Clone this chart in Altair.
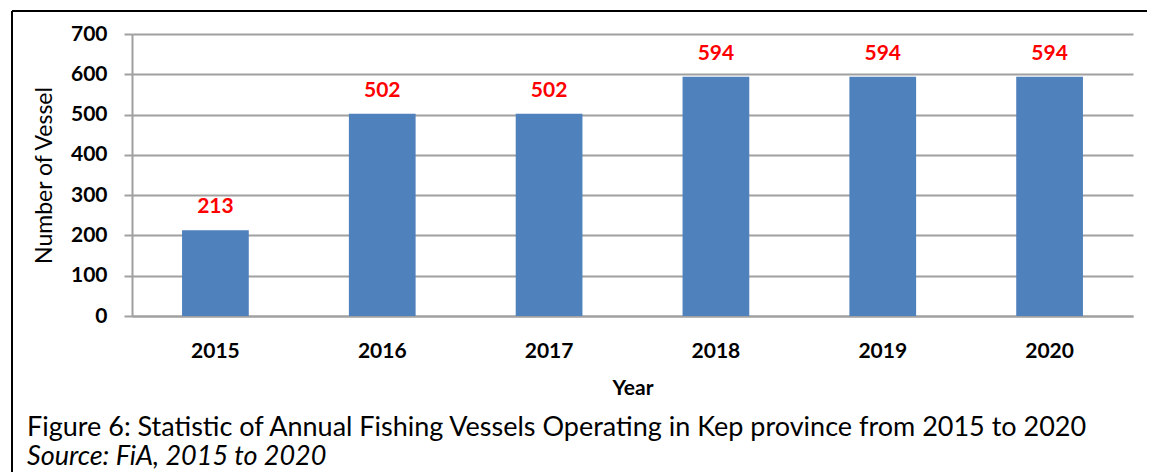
import altair as alt
import pandas as pd

years = ["2015", "2016", "2017", "2018", "2019", "2020"]
vessels = [213, 502, 502, 594, 594, 594]
y_ticks = [0, 100, 200, 300, 400, 500, 600, 700]
x_title = "Year"
y_title = "Number of Vessel"
caption = "Figure 6: Statistic of Annual Fishing Vessels Operating in Kep province from 2015 to 2020"
source = "Source: FiA, 2015 to 2020"

df = pd.DataFrame({"year": years, "vessels": vessels})

FONT = "Lato"
W, H = 1001, 282

base = alt.Chart(df)

bars = base.mark_bar(color="#4F81BD").encode(
    x=alt.X("year:N", title=x_title, sort=years,
            scale=alt.Scale(paddingInner=0.6, paddingOuter=0.3),
            axis=alt.Axis(labelAngle=0, ticks=False, labelPadding=24,
                          labelFont=FONT, labelFontSize=21, labelFontWeight="bold",
                          labelColor="#000000",
                          titleFont=FONT, titleFontSize=21, titleFontWeight="bold",
                          titleColor="#000000", titlePadding=16,
                          domainColor="#A0A0A0", domainWidth=2)),
    y=alt.Y("vessels:Q", title=y_title,
            scale=alt.Scale(domain=[0, 700], nice=False),
            axis=alt.Axis(values=y_ticks, tickSize=8, tickColor="#A0A0A0", tickWidth=2,
                          gridColor="#A0A0A0", gridWidth=2,
                          domainColor="#A0A0A0", domainWidth=2,
                          labelPadding=17, labelFont=FONT, labelFontSize=21,
                          labelFontWeight="bold", labelColor="#000000",
                          titleFont=FONT, titleFontSize=23, titleFontWeight="normal",
                          titleColor="#000000", titlePadding=14)),
)

labels = base.mark_text(color="#FF0000", font=FONT, fontSize=21, fontWeight="bold",
                        baseline="alphabetic", dy=-17).encode(
    x=alt.X("year:N", sort=years),
    y=alt.Y("vessels:Q"),
    text=alt.Text("vessels:Q"),
)

cap = alt.Chart(pd.DataFrame({"t": [caption]})).mark_text(
    align="left", baseline="alphabetic", font=FONT, fontSize=27, color="#000000"
).encode(x=alt.value(-105), y=alt.value(402), text="t:N")

src = alt.Chart(pd.DataFrame({"t": [source]})).mark_text(
    align="left", baseline="alphabetic", font=FONT, fontSize=27, fontStyle="italic",
    color="#000000"
).encode(x=alt.value(-105), y=alt.value(431), text="t:N")

left_border = alt.Chart(pd.DataFrame({"a": [0]})).mark_rule(color="#000000", strokeWidth=2).encode(
    x=alt.value(-120), y=alt.value(-23), y2=alt.value(450))
top_border = alt.Chart(pd.DataFrame({"a": [0]})).mark_rule(color="#000000", strokeWidth=2).encode(
    x=alt.value(-120), x2=alt.value(1022), y=alt.value(-23))

chart = alt.layer(bars, labels, cap, src, left_border, top_border).properties(
    width=W, height=H,
    autosize=alt.AutoSizeParams(type="none"),
    padding={"left": 124, "top": 26, "right": 14, "bottom": 156},
    background="#FFFFFF",
).configure_view(stroke=None)

chart.save("out.html", embed_options={"renderer": "svg", "actions": False})
